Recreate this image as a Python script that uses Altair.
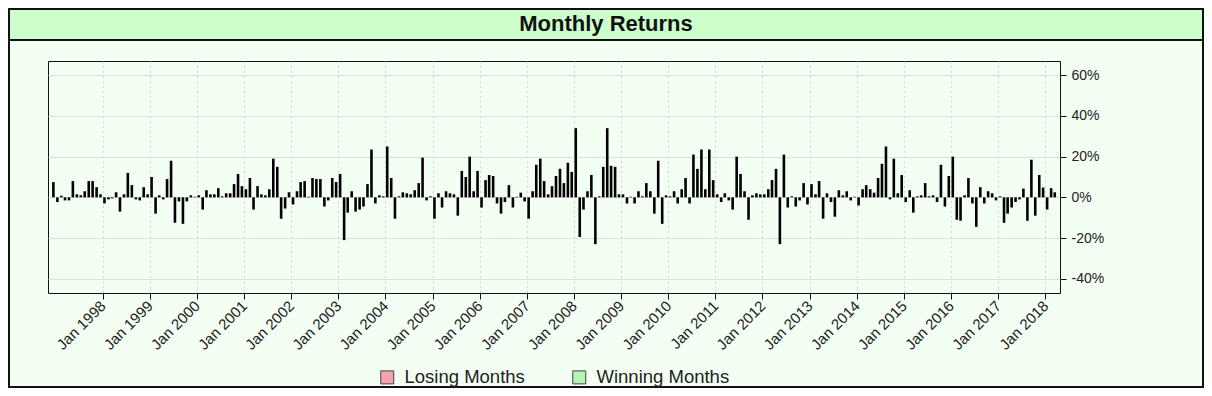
import altair as alt
import pandas as pd

# ---------------- data ----------------
start_month = "1996-12"
returns = [
    7.5,                                                                  # 1996-12
    -2.3, 0.8, -1.5, -1.5, 8, 1.5, 1, 3, 8, 8, 5, 1.5,                    # 1997
    -3, -1, -0.5, 2.5, -7, 1.5, 12, 6, -1, -1.5, 5, 1.5,                  # 1998
    10, -8, 1, -1, 9, 18, -12.5, -2, -13, -2, 1, 0.3,                     # 1999
    1, -6, 3.5, 1.5, 1.5, 4.5, 0.5, 2, 2, 6.5, 11.5, 5.5,                 # 2000
    4, 9.5, -6, 5.5, 1.5, 1, 4, 19, 15, -10.5, -5.5, 2.5,                 # 2001
    -3.5, 3, 7.5, 8, 0.3, 9.5, 9, 9, -4.5, -1.5, 9.5, 7.5,                # 2002
    11.5, -21, -7.5, 3, -7, -6, -4.5, 6.5, 23.5, -3, 1, 0.5,              # 2003
    25, 9.5, -10.5, 0.5, 2.5, 2, 1.5, 3.5, 7, 19.5, -1.5, 0.5,            # 2004
    -10.5, 2, -5, 3, 2, 1.5, -9, 13, 10, 20, 3, 13,                       # 2005
    -5, 8.5, 11, 10.5, -3, -8, -2.3, 6, -5, 0.3, 2.3, -2,                 # 2006
    -10.5, 3, 16, 19, 8, 1.5, 5.5, 10.5, 14, 7, 17, 12.5,                 # 2007
    34, -19.5, -6, 3, 11, -23, 0.5, 15, 34, 15.5, 15, 1.5,                # 2008
    1.5, -3, 0.3, -3, 3, 0.5, 7, 3, -8, 18, -13, 1,                       # 2009
    0.5, 3, -3, 4, 9.5, -3, 21, 14, 23.5, 4, 23.5, 8.5,                   # 2010
    1.5, -2.3, 2, -1.5, -6, 20, 11.5, 3, -11, 1, 2, 1.5,                  # 2011
    1.5, 4, 8.5, 14, -23, 21, -5, 0.5, -4.5, -1.5, 7, -3.5,               # 2012
    6.5, 1.5, 8, -10.5, 2, -2.3, -9.5, 3.5, 1, 3, -1.5, 0.3,              # 2013
    -4, 4, 6, 4, 2.3, 9.5, 16.5, 25, -1, 19, 2, 11,                       # 2014
    -2.3, 3.5, -7.5, 0.5, 1, 7, 0.5, 1, -2.3, 16, -4.5, 10.5,             # 2015
    20, -11, -11.5, 1, 9.5, -3, -14.5, 5, -3, 3, 2, -1.5,                 # 2016
    0.5, -12.5, -8, -5, -2.3, -1, 4.3, -11.5, 18.5, -9, 11, 4.8,          # 2017
    -6, 4.5, 2.5,                                                         # 2018
]
legend_labels = ["Losing Months", "Winning Months"]
legend_colors = ["#F4A4AC", "#B4F4B4"]
y_tick_values = [-40, -20, 0, 20, 40, 60]
x_tick_years = list(range(1998, 2019))
title_text = "Monthly Returns"

months = pd.date_range(start=start_month, periods=len(returns), freq="MS") + pd.Timedelta(days=14)
df = pd.DataFrame({"month": months.strftime("%Y-%m-%d"), "ret": returns})
legend_df = pd.DataFrame({"cat": legend_labels})
one = pd.DataFrame({"k": [0]})

FONT = "Liberation Sans"
W, H = 1012, 232
PAD = {"left": 40, "top": 53, "right": 144, "bottom": 95}

# ---------------- decorations ----------------
frame = alt.Chart(one).mark_rect(fill="transparent", stroke="#111111", strokeWidth=2).encode(
    x=alt.value(-PAD["left"] + 1), x2=alt.value(W + PAD["right"] - 1),
    y=alt.value(-PAD["top"] + 1), y2=alt.value(H + PAD["bottom"] - 1),
)
title_bar = alt.Chart(one).mark_rect(fill="#CCFFCC", stroke="#111111", strokeWidth=2).encode(
    x=alt.value(-PAD["left"] + 1), x2=alt.value(W + PAD["right"] - 1),
    y=alt.value(-PAD["top"] + 1), y2=alt.value(-21),
)
title = alt.Chart(one).mark_text(
    text=title_text, font=FONT, fontSize=22, fontWeight="bold", color="#111111",
    align="center", baseline="middle",
).encode(x=alt.value(558), y=alt.value(-37))

# ---------------- bars ----------------
x_axis = alt.Axis(
    values=[alt.DateTime(year=y, month=1, date=1) for y in x_tick_years],
    format="%b %Y", labelAngle=-45, labelAlign="right", labelBaseline="middle",
    labelFont=FONT, labelFontSize=15, labelColor="#222222",
    labelPadding=4, grid=True, gridColor="#aaaaaa", gridDash=[1, 4], gridWidth=1,
    tickColor="#111111", tickSize=6, domain=False, title=None, labelOverlap=False,
)
y_axis = alt.Axis(
    orient="right", values=y_tick_values, labelExpr="datum.value + '%'",
    labelFont=FONT, labelFontSize=14, labelColor="#222222", labelPadding=5,
    grid=True, gridColor="#dddddd", gridWidth=1,
    tickColor="#111111", tickSize=6, domain=False, title=None,
)
bars = alt.Chart(df).mark_bar(color="black", width=2.6, clip=True).encode(
    x=alt.X("month:T", axis=x_axis, scale=alt.Scale(
        domain=[alt.DateTime(year=1996, month=12, date=12), alt.DateTime(year=2018, month=3, date=17)])),
    y=alt.Y("ret:Q", axis=y_axis, scale=alt.Scale(domain=[-47, 67], nice=False, zero=False)),
)

# ---------------- legend ----------------
legend_layer = alt.Chart(legend_df).mark_square(opacity=0).encode(
    color=alt.Color("cat:N", scale=alt.Scale(domain=legend_labels, range=legend_colors),
                    legend=alt.Legend(
                        orient="none", legendX=330, legendY=307, direction="horizontal",
                        title=None, symbolType="square", symbolSize=169, symbolOpacity=1,
                        symbolStrokeColor="#444444", symbolStrokeWidth=1,
                        labelFont=FONT, labelFontSize=18.5, labelColor="#222222",
                        labelOffset=8, columnPadding=45, padding=0,
                    )),
)

chart = alt.layer(frame, title_bar, title, bars, legend_layer).properties(
    width=W, height=H, padding=PAD,
    autosize=alt.AutoSizeParams(type="none"),
    background="#F4FFF4",
).configure_view(fill="white", stroke="#111111", strokeWidth=1)

chart.save("out.html", embed_options={"renderer": "svg", "actions": False})
